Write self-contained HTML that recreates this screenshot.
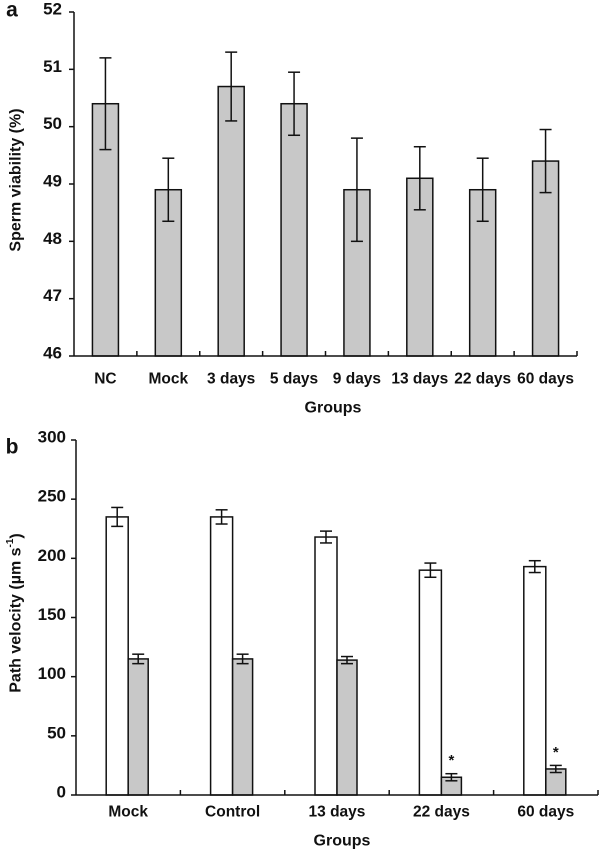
<!DOCTYPE html>
<html><head><meta charset="utf-8"><style>
body{margin:0;background:#fff}
svg text{font-family:"Liberation Sans",Arial,sans-serif;font-weight:bold;fill:#111}
</style></head><body>
<svg id="c" width="600" height="851" viewBox="0 0 600 851" xmlns="http://www.w3.org/2000/svg"></svg>
<script>
const catsA=["NC","Mock","3 days","5 days","9 days","13 days","22 days","60 days"];
const valsA=[50.4,48.9,50.7,50.4,48.9,49.1,48.9,49.4];
const errsA=[0.8,0.55,0.6,0.55,0.9,0.55,0.55,0.55];
const ticksA=[46,47,48,49,50,51,52];
const catsB=["Mock","Control","13 days","22 days","60 days"];
const whiteB=[235,235,218,190,193];
const whiteErrB=[8,6,5,6,5];
const grayB=[115,115,114,15,22];
const grayErrB=[4,4,3,3,3];
const sigB=[false,false,false,true,true];
const ticksB=[0,50,100,150,200,250,300];

const svg=document.getElementById('c');
const NS="http://www.w3.org/2000/svg";
function el(tag,attrs,parent){const e=document.createElementNS(NS,tag);for(const k in attrs)e.setAttribute(k,attrs[k]);(parent||svg).appendChild(e);return e;}
function txt(s,x,y,size,anchor,parent){const t=el('text',{x:x,y:y,'font-size':size,'text-anchor':anchor||'middle','dominant-baseline':'central'},parent);t.textContent=s;return t;}
function errBar(g,x,y1,y2,w){
  el('line',{x1:x,x2:x,y1:y1,y2:y2,stroke:'#111','stroke-width':1.5},g);
  el('line',{x1:x-w,x2:x+w,y1:y1,y2:y1,stroke:'#111','stroke-width':1.5},g);
  el('line',{x1:x-w,x2:x+w,y1:y2,y2:y2,stroke:'#111','stroke-width':1.5},g);
}

// Panel A
const A={x0:74,x1:577,y0:356,y1:12,min:46,max:52};
const yA=v=>A.y0-(v-A.min)/(A.max-A.min)*(A.y0-A.y1);
const cwA=(A.x1-A.x0)/catsA.length;
const xA=i=>A.x0+cwA*(i+0.5);
const gA=el('g',{});


let t=txt('a',12,10,21,'middle',gA);


valsA.forEach((v,i)=>{
  const r=el('rect',{x:xA(i)-13,y:yA(v),width:26,height:A.y0-yA(v),fill:'#c8c8c8',stroke:'#111','stroke-width':1.5},gA);
  
  
  errBar(gA,xA(i),yA(v+errsA[i]),yA(v-errsA[i]),6);
  const l=txt(catsA[i],xA(i),379,15.5,'middle',gA);
  
  
});
el('line',{x1:A.x0,x2:A.x0,y1:A.y1,y2:A.y0,stroke:'#111','stroke-width':1.5},gA);
el('line',{x1:A.x0,x2:A.x1,y1:A.y0,y2:A.y0,stroke:'#111','stroke-width':1.5},gA);
for(let i=1;i<=catsA.length;i++){const x=A.x0+cwA*i;el('line',{x1:x,x2:x,y1:A.y0,y2:A.y0-5,stroke:'#111','stroke-width':1.5},gA);}
ticksA.forEach(v=>{
  el('line',{x1:A.x0-5,x2:A.x0,y1:yA(v),y2:yA(v),stroke:'#111','stroke-width':1.5},gA);
  const l=txt(String(v),62,yA(v)-3,17,'end',gA);
  
  
});
t=txt('Sperm viability (%)',0,0,16,'middle',gA);
t.setAttribute('transform','translate(16,180) rotate(-90)');


t=txt('Groups',333,408,16,'middle',gA);



// Panel B
const B={x0:76,x1:598,y0:795,y1:440,min:0,max:300};
const yB=v=>B.y0-(v-B.min)/(B.max-B.min)*(B.y0-B.y1);
const cwB=(B.x1-B.x0)/catsB.length;
const xB=i=>B.x0+cwB*(i+0.5);
const gB=el('g',{});


t=txt('b',12,447,21,'middle',gB);


catsB.forEach((c,i)=>{
  const cx=xB(i);
  const w=el('rect',{x:cx-22,y:yB(whiteB[i]),width:22,height:B.y0-yB(whiteB[i]),fill:'#fff',stroke:'#111','stroke-width':1.5},gB);
  
  
  errBar(gB,cx-11,yB(whiteB[i]+whiteErrB[i]),yB(whiteB[i]-whiteErrB[i]),6);
  const g=el('rect',{x:cx,y:yB(grayB[i]),width:20,height:B.y0-yB(grayB[i]),fill:'#c8c8c8',stroke:'#111','stroke-width':1.5},gB);
  
  
  errBar(gB,cx+10,yB(grayB[i]+grayErrB[i]),yB(grayB[i]-grayErrB[i]),6);
  if(sigB[i]){const s=txt('*',cx+10,yB(grayB[i]+grayErrB[i])-13,15,'middle',gB);
    
    }
  const l=txt(c,cx,812,15.5,'middle',gB);
  
  
});
el('line',{x1:B.x0,x2:B.x0,y1:B.y1,y2:B.y0,stroke:'#111','stroke-width':1.5},gB);
el('line',{x1:B.x0,x2:B.x1,y1:B.y0,y2:B.y0,stroke:'#111','stroke-width':1.5},gB);
for(let i=1;i<=catsB.length;i++){const x=B.x0+cwB*i;el('line',{x1:x,x2:x,y1:B.y0,y2:B.y0-5,stroke:'#111','stroke-width':1.5},gB);}
ticksB.forEach(v=>{
  el('line',{x1:B.x0-5,x2:B.x0,y1:yB(v),y2:yB(v),stroke:'#111','stroke-width':1.5},gB);
  const l=txt(String(v),66,yB(v)-3,17,'end',gB);
  
  
});
t=el('text',{'font-size':16,'text-anchor':'middle','dominant-baseline':'central',transform:'translate(16,613) rotate(-90)'},gB);
t.innerHTML='Path velocity (µm s<tspan font-size="10" dy="-6">-1</tspan><tspan dy="6">)</tspan>';


t=txt('Groups',342,841,16,'middle',gB);


</script>
</body></html>
